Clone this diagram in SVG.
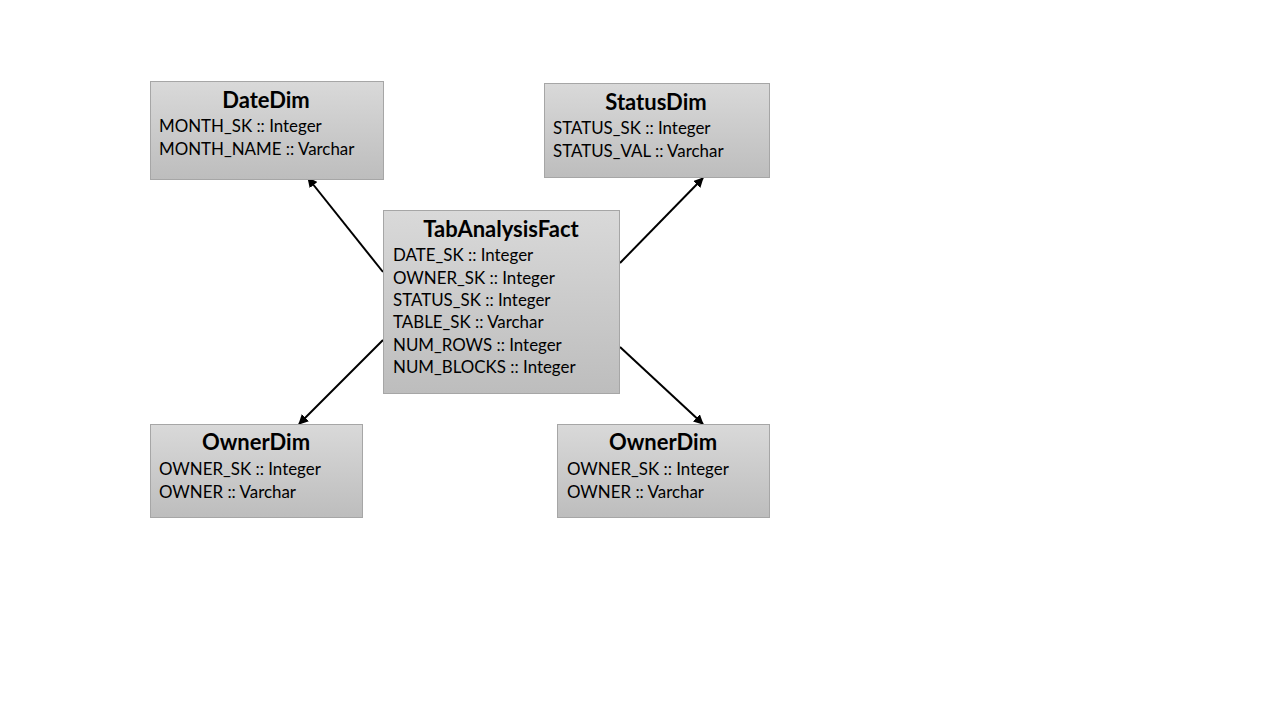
<svg xmlns="http://www.w3.org/2000/svg" width="1280" height="720" viewBox="0 0 1280 720">
<defs>
<linearGradient id="g" x1="0" y1="0" x2="0" y2="1">
<stop offset="0" stop-color="#d9d9d9"/>
<stop offset="1" stop-color="#bdbdbd"/>
</linearGradient>
<marker id="ah" viewBox="0 0 10 10" refX="9" refY="5" markerWidth="5" markerHeight="5" orient="auto" markerUnits="strokeWidth">
<path d="M0,0 L10,5 L0,10 z" fill="#000"/>
</marker>
<style>
.box{fill:url(#g);stroke:#a6a6a6;stroke-width:1}
.t{font-family:Lato,"Liberation Sans",sans-serif;font-weight:bold;font-size:22px;fill:#000;text-anchor:middle}
.b{font-family:Lato,"Liberation Sans",sans-serif;font-size:16.9px;fill:#000}
.c{stroke:#000;stroke-width:2;fill:none;marker-end:url(#ah)}
</style>
</defs>
<rect width="1280" height="720" fill="#fff"/>
<g id="connectors">
<line class="c" x1="383" y1="272" x2="308" y2="178"/>
<line class="c" x1="620" y1="263" x2="703" y2="178"/>
<line class="c" x1="383" y1="340" x2="299" y2="424"/>
<line class="c" x1="620" y1="347" x2="703" y2="424"/>
</g>
<g id="DateDim">
<rect class="box" x="150.5" y="81.5" width="233" height="98"/>
<text class="t" x="266" y="108">DateDim</text>
<text class="b" x="159" y="132">MONTH_SK :: Integer</text>
<text class="b" x="159" y="155">MONTH_NAME :: Varchar</text>
</g>
<g id="StatusDim">
<rect class="box" x="544.5" y="83.5" width="225" height="94"/>
<text class="t" x="656" y="110">StatusDim</text>
<text class="b" x="553" y="134">STATUS_SK :: Integer</text>
<text class="b" x="553" y="157">STATUS_VAL :: Varchar</text>
</g>
<g id="TabAnalysisFact">
<rect class="box" x="383.5" y="210.5" width="236" height="183"/>
<text class="t" x="501" y="237">TabAnalysisFact</text>
<text class="b" x="393" y="261">DATE_SK :: Integer</text>
<text class="b" x="393" y="284">OWNER_SK :: Integer</text>
<text class="b" x="393" y="306">STATUS_SK :: Integer</text>
<text class="b" x="393" y="328">TABLE_SK :: Varchar</text>
<text class="b" x="393" y="351">NUM_ROWS :: Integer</text>
<text class="b" x="393" y="373">NUM_BLOCKS :: Integer</text>
</g>
<g id="OwnerDimLeft">
<rect class="box" x="150.5" y="424.5" width="212" height="93"/>
<text class="t" x="256" y="450">OwnerDim</text>
<text class="b" x="159" y="475">OWNER_SK :: Integer</text>
<text class="b" x="159" y="498">OWNER :: Varchar</text>
</g>
<g id="OwnerDimRight">
<rect class="box" x="557.5" y="424.5" width="212" height="93"/>
<text class="t" x="663" y="450">OwnerDim</text>
<text class="b" x="567" y="475">OWNER_SK :: Integer</text>
<text class="b" x="567" y="498">OWNER :: Varchar</text>
</g>
</svg>
